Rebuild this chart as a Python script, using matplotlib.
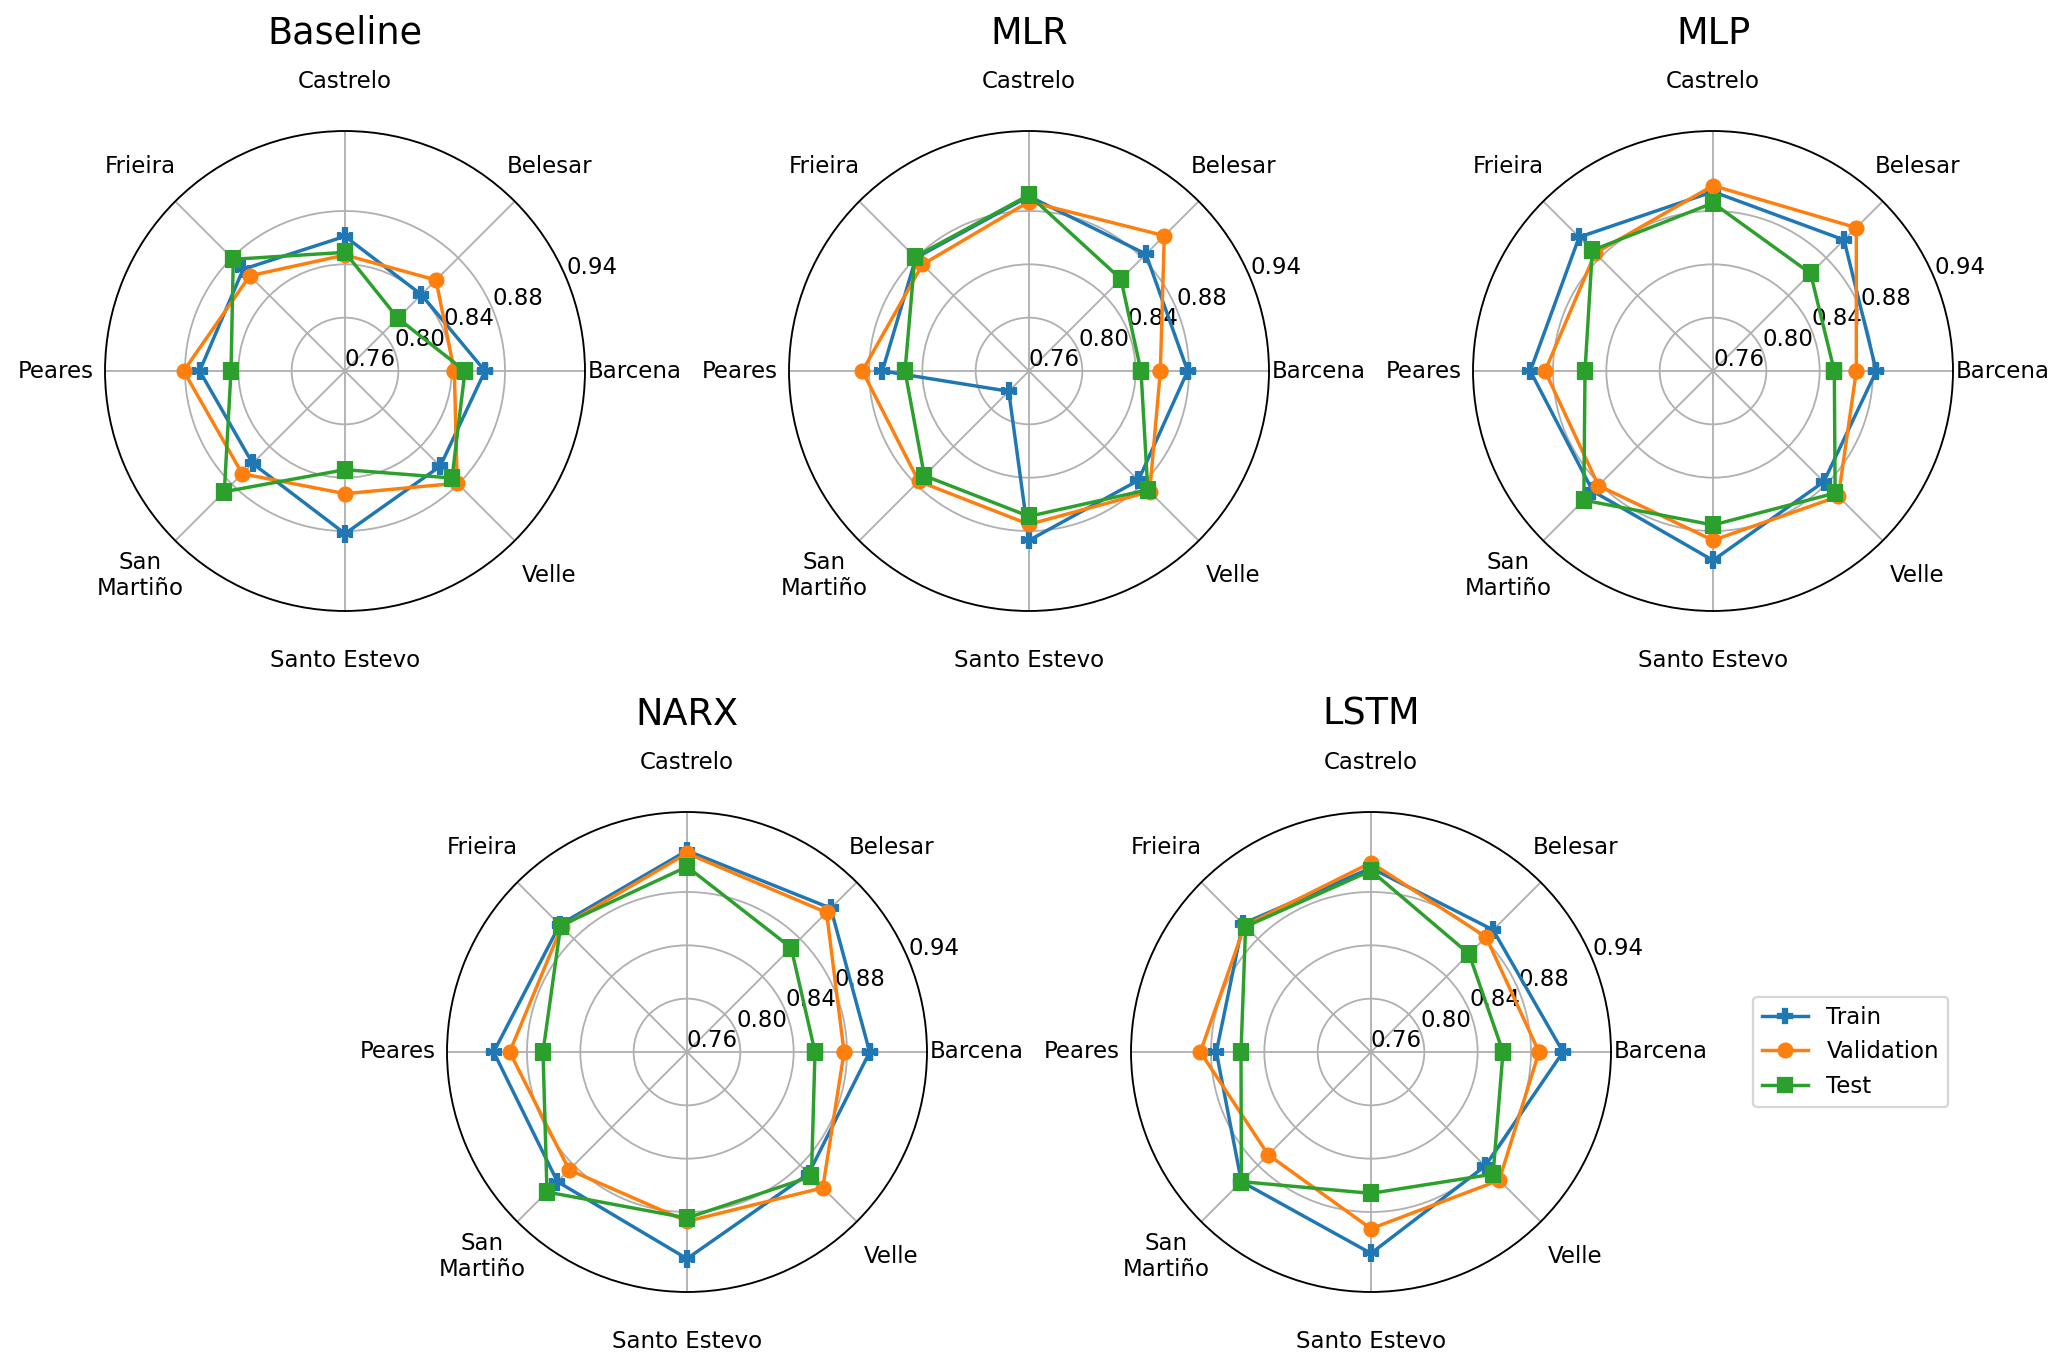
import numpy as np
import matplotlib.pyplot as plt

### Data ###
stations = ['Barcena', 'Belesar', 'Castrelo', 'Frieira', 'Peares',
            'San\nMartiño', 'Santo Estevo', 'Velle']
models = ['Baseline', 'MLR', 'MLP', 'NARX', 'LSTM']
series = ['Train', 'Validation', 'Test']
markers = ['P', 'o', 's']
rticks = [0.76, 0.80, 0.84, 0.88, 0.94]

baseline_train = [0.865, 0.841, 0.861, 0.868, 0.869, 0.858, 0.882, 0.861]
baseline_val = [0.842, 0.8565, 0.847, 0.861, 0.881, 0.869, 0.852, 0.879]
baseline_test = [0.850, 0.816, 0.849, 0.8785, 0.8455, 0.888, 0.834, 0.8735]

mlr_train = [0.879, 0.884, 0.891, 0.880, 0.870, 0.7815, 0.887, 0.876]
mlr_val = [0.8585, 0.9035, 0.887, 0.873, 0.885, 0.877, 0.875, 0.888]
mlr_test = [0.844, 0.8575, 0.892, 0.881, 0.853, 0.871, 0.869, 0.886]

mlp_train = [0.8825, 0.899, 0.8945, 0.902, 0.897, 0.8875, 0.902, 0.8775]
mlp_val = [0.8675, 0.912, 0.899, 0.885, 0.886, 0.8815, 0.887, 0.893]
mlp_test = [0.851, 0.8635, 0.886, 0.888, 0.856, 0.897, 0.8755, 0.8895]

narx_train = [0.897, 0.9125, 0.911, 0.895, 0.905, 0.8975, 0.915, 0.889]
narx_val = [0.8778, 0.908, 0.909, 0.893, 0.893, 0.885, 0.887, 0.904]
narx_test = [0.856, 0.8705, 0.899, 0.894, 0.868, 0.9085, 0.8845, 0.892]

lstm_train = [0.904, 0.8895, 0.898, 0.896, 0.876, 0.8975, 0.911, 0.881]
lstm_val = [0.886, 0.882, 0.902, 0.894, 0.888, 0.869, 0.8925, 0.896]
lstm_test = [0.859, 0.864, 0.896, 0.893, 0.8575, 0.8975, 0.866, 0.8895]

all_data = [[baseline_train, baseline_val, baseline_test],
            [mlr_train, mlr_val, mlr_test],
            [mlp_train, mlp_val, mlp_test],
            [narx_train, narx_val, narx_test],
            [lstm_train, lstm_val, lstm_test]]

### Figure ###
W, H, DPI = 2067, 1366, 165
fig = plt.figure(figsize=(W / DPI, H / DPI), dpi=DPI)

size = 480  # px, square box around each radar
centers = [(345, 371), (1029, 371), (1713, 371), (687, 1052), (1371, 1052)]

angles = np.linspace(0, 2 * np.pi, len(stations), endpoint=False)
closed_angles = np.append(angles, angles[0])

for name, (cx, cy), data in zip(models, centers, all_data):
    ax = fig.add_axes([(cx - size / 2) / W, 1 - (cy + size / 2) / H, size / W, size / H],
                      projection='polar')
    for vals, lab, mk in zip(data, series, markers):
        ax.plot(closed_angles, np.append(vals, vals[0]), marker=mk, label=lab)
    ax.set_xticks(angles)
    ax.set_xticklabels(stations)
    ax.tick_params(axis='x', pad=11)
    ax.set_ylim(0.76, 0.94)
    ax.set_yticks(rticks)
    ax.set_yticklabels(['%.2f' % t for t in rticks])
    ax.set_title(name, fontsize=16, pad=38)

handles, labels = ax.get_legend_handles_labels()
fig.legend(handles, labels, loc='center left', bbox_to_anchor=(1753 / W, 1 - 1052 / H),
           borderaxespad=0)

fig.savefig('out.png', dpi=DPI)
